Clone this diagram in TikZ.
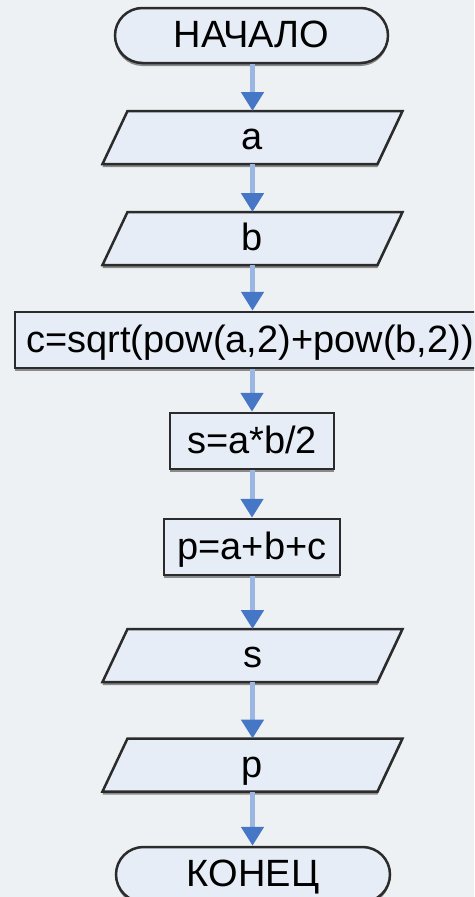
\documentclass[tikz,border=0pt]{standalone}
\usepackage{fontspec}
\setmainfont{Liberation Sans}
\usetikzlibrary{shapes.misc,arrows.meta,shadows}
\definecolor{bg}{HTML}{EEF1F3}
\definecolor{boxfill}{HTML}{E7EDF7}
\definecolor{edge}{HTML}{2B2B2B}
\definecolor{shade}{HTML}{8A8A8A}
\definecolor{shaft}{HTML}{9BB6E0}
\definecolor{tipblue}{HTML}{4676C6}
\pgfdeclarelayer{back}
\pgfsetlayers{back,main}
\begin{document}
\begin{tikzpicture}[x=1pt,y=-1pt,
  label font/.style={font=\fontsize{38}{40}\selectfont, text height=30pt, text depth=6pt, inner sep=0pt},
  outline/.style={fill=boxfill, draw=edge, line width=2.5pt,
    drop shadow={shadow xshift=0pt, shadow yshift=-3pt, fill=shade, opacity=1}},
  block/.style={label font, outline},
  term/.style={block, rounded rectangle, minimum width=273pt, minimum height=55pt},
  proc/.style={block, rectangle, minimum height=56pt},
  io/.style={label font, rectangle, outer sep=0pt, minimum width=275pt, minimum height=53pt},
  flow/.style={line width=5pt, draw=shaft,
    -{Triangle[width=22pt,length=19pt,color=tipblue]}}]
  \useasboundingbox (0,0) rectangle (474,897);
  \begin{pgfonlayer}{back}
    \fill[bg] (0,0) rectangle (474,897);
  \end{pgfonlayer}
  \clip (0,0) rectangle (474,897);

  % blocks, top to bottom
  \node[term] (start) at (251.5,35.5) {НАЧАЛО};
  \node[io] (ina) at (252.5,137.5) {a};
  \node[io] (inb) at (252.5,238.5) {b};
  \node[proc, minimum width=470pt] (hyp) at (250,340) {c=sqrt(pow(a,2)+pow(b,2))};
  \node[proc, minimum width=164pt] (area) at (252,441) {s=a*b/2};
  \node[proc, minimum width=176pt] (perim) at (252,547) {p=a+b+c};
  \node[io] (outs) at (252.5,655.5) {s};
  \node[io] (outp) at (252.5,765) {p};
  \node[term, minimum width=274pt] (stop) at (253,874.5) {КОНЕЦ};

  % input/output parallelograms behind their labels
  \begin{pgfonlayer}{back}
    \foreach \n in {ina,inb,outs,outp}
      \path[outline] ([xshift=12.5pt]\n.north west) -- ([xshift=12.5pt]\n.north east)
        -- ([xshift=-12.5pt]\n.south east) -- ([xshift=-12.5pt]\n.south west) -- cycle;
  \end{pgfonlayer}

  % connectors
  \draw[flow] (start.south -| ina.north) -- (ina.north);
  \draw[flow] (ina.south) -- (inb.north);
  \draw[flow] (inb.south) -- (inb.south |- hyp.north);
  \draw[flow] (hyp.south -| area.north) -- (area.north);
  \draw[flow] (area.south) -- (perim.north);
  \draw[flow] (perim.south -| outs.north) -- (outs.north);
  \draw[flow] (outs.south) -- (outp.north);
  \draw[flow] (outp.south) -- (outp.south |- stop.north);
\end{tikzpicture}
\end{document}
